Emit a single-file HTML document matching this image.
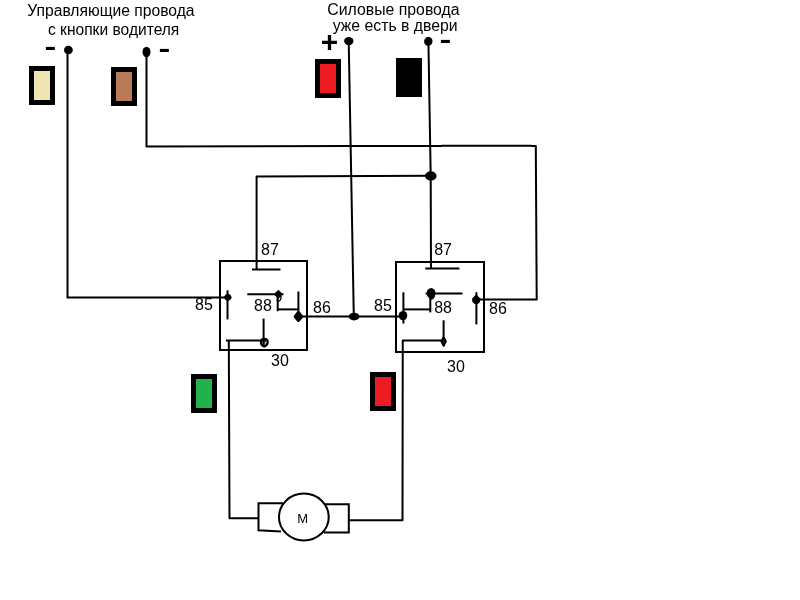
<!DOCTYPE html>
<html lang="ru">
<head>
<meta charset="utf-8">
<style>
html,body{margin:0;padding:0;background:#fff;}
body{width:800px;height:600px;overflow:hidden;}
svg{display:block;will-change:transform;}
text{font-family:"Liberation Sans",sans-serif;fill:#000;}
.t{font-size:16px;}
.n{font-size:16px;}
.b{font-weight:bold;}
.w{stroke:#000;stroke-width:2;fill:none;stroke-linecap:butt;stroke-linejoin:miter;}
.d{fill:#000;}
.sw{stroke:#000;stroke-width:4;}
</style>
</head>
<body>
<svg width="800" height="600" viewBox="0 0 800 600">
<rect width="800" height="600" fill="#fff"/>

<!-- titles -->
<text class="t" x="27.3" y="16" textLength="167.2" lengthAdjust="spacingAndGlyphs">Управляющие провода</text>
<text class="t" x="48" y="35" textLength="131.3" lengthAdjust="spacingAndGlyphs">с кнопки водителя</text>
<text class="t" x="327.3" y="15" textLength="132.3" lengthAdjust="spacingAndGlyphs">Силовые провода</text>
<text class="t" x="332.7" y="31" textLength="125" lengthAdjust="spacingAndGlyphs">уже есть в двери</text>

<!-- polarity signs -->
<text class="b" transform="translate(44.62 55.04) scale(1.406 1)" style="font-size:25.2px">-</text>
<text class="b" transform="translate(158.62 57.04) scale(1.406 1)" style="font-size:25.2px">-</text>
<text class="b" transform="translate(320.74 52.30) scale(1 0.9843)" style="font-size:29.94px">+</text>
<text class="b" transform="translate(439.62 48.04) scale(1.406 1)" style="font-size:25.2px">-</text>

<!-- colour swatches -->
<rect x="29" y="66" width="26" height="39" fill="#000"/><rect x="34" y="71" width="16" height="29" fill="#efe4b0"/>
<rect x="111" y="67" width="26" height="39" fill="#000"/><rect x="116" y="72" width="16" height="29" fill="#b97a57"/>
<rect x="315" y="59" width="26" height="39" fill="#000"/><rect x="320" y="64" width="16" height="29" fill="#ed1c24"/>
<rect x="396" y="58" width="26" height="39" fill="#000"/>
<rect x="191" y="374" width="26" height="39" fill="#000"/><rect x="196" y="379" width="16" height="29" fill="#22b14c"/>
<rect x="370" y="372" width="26" height="39" fill="#000"/><rect x="375" y="377" width="16" height="29" fill="#ed1c24"/>

<!-- wires -->
<g class="w">
<path d="M67.500 50V297.500H227"/>
<path d="M146.500 52V146.500L350 146H441L442 145.700H531L532 146H535.800L536.700 299.400H476" stroke-linejoin="round"/>
<path d="M348.700 41L353.800 316"/>
<path d="M428.400 41L430.700 176L431 269"/>
<path d="M431 175.800L256.600 176.400V270" stroke-linejoin="round"/>
<!-- relay 1 -->
<rect x="220" y="261" width="87" height="89"/>
<path d="M264.300 338.800Q267.800 338.800 267.800 342.300Q267.500 345 264.300 346.600Q261 345 260.800 342.300Q260.800 338.800 264.300 338.800Z" stroke-width="2.100" stroke-linejoin="round" fill="#aaa"/>
<path d="M252 269.500H280.500"/>
<path d="M227.500 290.300V319.400"/>
<path d="M247.300 294.300H283.500"/>
<path d="M277.700 294V311.200"/>
<path d="M277 309.400H298.500"/>
<path d="M298.400 291.500V316"/>
<path d="M298 316.400H403"/>
<path d="M263.600 318.600V346.500"/>
<path d="M226 340.500H266"/>
<path d="M228.800 340.500L229.500 518.300H258" stroke-linejoin="round"/>
<!-- relay 2 -->
<rect x="396" y="262" width="88" height="90"/>
<path d="M425.300 268.500H459.400"/>
<path d="M425.600 293.500H462.500"/>
<path d="M430.300 293V312.400"/>
<path d="M403 309.400H430"/>
<path d="M403.400 292.300V323.500"/>
<path d="M476.400 292.200V324.400"/>
<path d="M443.600 320.300V346"/>
<path d="M443 340.600H402.750L402.500 520.200H349" stroke-linejoin="round"/>
<!-- motor -->
<path d="M283 503.300H258.500V530.300L281 531.600"/>
<path d="M324 504.250H348.800V532.450H324"/>
<ellipse cx="303.850" cy="517" rx="24.900" ry="23.400" fill="#fff"/>
</g>

<!-- junction dots -->
<g class="d">
<ellipse cx="68.400" cy="50" rx="4.400" ry="4.300"/>
<ellipse cx="146.500" cy="52" rx="4" ry="5.300"/>
<ellipse cx="348.800" cy="41.100" rx="4.700" ry="4.200"/>
<ellipse cx="428.300" cy="41.400" rx="4.200" ry="4.600" transform="rotate(15 428.300 41.400)"/>
<ellipse cx="430.800" cy="176" rx="5.800" ry="4.700"/>
<path d="M227.800 294.300L230.800 297.300L227.800 300.300L224.800 297.300Z" stroke="#000" stroke-width="1.800" stroke-linejoin="round"/><circle cx="227.800" cy="297.300" r="3.300"/>
<path d="M278.400 291.700L280.700 294.200L278.400 296.900L275.900 294.200Z" stroke="#000" stroke-width="3" stroke-linejoin="round"/>
<ellipse cx="279.200" cy="298.600" rx="1.600" ry="2.700" transform="rotate(25 279.200 298.600)" fill="none" stroke="#000" stroke-width="1.300"/>
<path d="M298.400 312.500L301.700 316.500L298.400 320.500L295.200 316.500Z" stroke="#000" stroke-width="3" stroke-linejoin="round"/>
<ellipse cx="354.100" cy="316.600" rx="5.400" ry="3.900"/>
<ellipse cx="403" cy="315.600" rx="4.300" ry="4.700"/>
<ellipse cx="431.100" cy="293.300" rx="4.400" ry="5.200"/>
<ellipse cx="432.300" cy="297" rx="1.500" ry="2.300" transform="rotate(30 432.300 297)" fill="none" stroke="#000" stroke-width="1.200"/>
<path d="M476.300 294.300L480 298.200Q481 301.500 478.500 303.400Q476.300 304.900 474 303.400Q471.300 301.500 472.400 298.200Z"/>
<path d="M443.650 337.300L445.900 341.500L443.650 345.800L441.400 341.500Z" fill="#222" stroke="#000" stroke-width="1.900" stroke-linejoin="round"/>
</g>

<!-- labels -->
<text class="n" x="261" y="255">87</text>
<text class="n" x="195" y="310">85</text>
<text class="n" x="254" y="311">88</text>
<text class="n" x="313" y="313">86</text>
<text class="n" x="271" y="366">30</text>
<text class="n" x="434.200" y="255">87</text>
<text class="n" x="374" y="311">85</text>
<text class="n" x="434.200" y="313">88</text>
<text class="n" x="489" y="314">86</text>
<text class="n" x="447" y="372">30</text>
<text x="302.750" y="523" text-anchor="middle" style="font-size:13px">M</text>
</svg>
</body>
</html>
